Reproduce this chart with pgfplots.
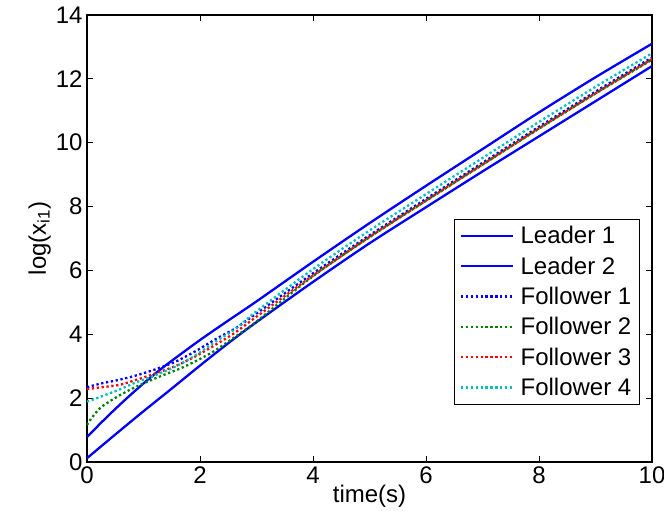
\documentclass[border=0pt]{standalone}
\usepackage{fontspec}
\setmainfont{Liberation Sans}
\usepackage{pgfplots}
\pgfplotsset{compat=1.18}

\definecolor{mblue}{rgb}{0,0,1}
\definecolor{mgreen}{rgb}{0,0.5,0}
\definecolor{mred}{rgb}{1,0,0}
\definecolor{mcyan}{rgb}{0,0.75,0.75}

\begin{document}
\begin{tikzpicture}
\begin{axis}[
    width=565bp, height=447bp,
    scale only axis,
    xmin=0, xmax=10, ymin=0, ymax=14,
    xtick={0,2,...,10}, ytick={0,2,...,14},
    tick align=inside,
    major tick length=6bp,
    axis line style={black, line width=1.2bp},
    tick style={black, line width=0.8bp},
    font=\fontsize{24bp}{28bp}\selectfont,
    /pgf/number format/assume math mode=true,
    xticklabel style={yshift=-1bp},
    yticklabel style={xshift=-1bp},
    xlabel={time(s)},
    ylabel={log(x\textsubscript{i1})},
    xlabel style={yshift=5bp},
    ylabel style={yshift=-2bp},
    legend cell align=left,
    legend style={
        at={(0.977,0.128)}, anchor=south east,
        draw=black, fill=white,
        font=\fontsize{24bp}{28bp}\selectfont,
        row sep=8.5bp, inner xsep=6bp, inner ysep=6bp,
        nodes={inner sep=1.5bp},
        /tikz/column 1/.style={column sep=5bp}
    },
    legend image code/.code={\draw[#1, line width=2.3bp] (0bp,0bp) -- (52bp,0bp);},
]
% leaders
\addplot[mblue, line width=2.3bp, smooth] coordinates {
(0,0.78) (0.25,1.23) (0.5,1.66) (0.75,2.07) (1,2.46) (1.25,2.83) (1.5,3.17)
(2,3.82) (2.5,4.43) (3,5.03) (4,6.27) (5,7.48) (6,8.65) (7,9.8) (8,10.95)
(9,12.05) (10,13.1)};
\addlegendentry{Leader 1}
\addplot[mblue, line width=2.3bp, smooth] coordinates {
(0,0.12) (0.5,0.86) (1,1.59) (1.5,2.3) (2,3.02) (2.5,3.72) (3,4.38) (4,5.64)
(5,6.85) (6,7.98) (7,9.1) (8,10.2) (9,11.3) (10,12.4)};
\addlegendentry{Leader 2}
% followers
\addplot[mblue, line width=2.3bp, dash pattern=on 2.3bp off 2.6bp, smooth] coordinates {
(0,2.34) (0.25,2.46) (0.56,2.57) (0.85,2.7) (1.14,2.86) (1.35,2.99) (1.6,3.17)
(1.91,3.46) (2.3,3.87) (2.62,4.18) (3,4.65) (4,5.91) (5,7.1) (6,8.24) (7,9.37)
(8,10.5) (9,11.6) (10,12.67)};
\addlegendentry{Follower 1}
\addplot[mgreen, line width=2.3bp, dash pattern=on 2.3bp off 2.6bp, smooth] coordinates {
(0,1.16) (0.1,1.42) (0.26,1.73) (0.56,2.07) (0.85,2.34) (1.14,2.57) (1.45,2.79)
(1.73,2.99) (2.2,3.42) (2.62,3.92) (3,4.4) (4,5.82) (5,7.04) (6,8.18) (7,9.31)
(8,10.44) (9,11.54) (10,12.6)};
\addlegendentry{Follower 2}
\addplot[mred, line width=2.3bp, dash pattern=on 2.3bp off 2.6bp, smooth] coordinates {
(0,2.28) (0.25,2.34) (0.56,2.41) (0.85,2.56) (1.14,2.73) (1.35,2.86) (1.6,3.03)
(1.91,3.3) (2.3,3.7) (2.62,4.05) (3,4.55) (4,5.84) (5,7.05) (6,8.19) (7,9.32)
(8,10.45) (9,11.55) (10,12.62)};
\addlegendentry{Follower 3}
\addplot[mcyan, line width=2.3bp, dash pattern=on 2.3bp off 2.6bp, smooth] coordinates {
(0,1.89) (0.1,1.95) (0.25,2.05) (0.56,2.26) (0.85,2.48) (1.14,2.67) (1.35,2.82)
(1.6,3.02) (1.91,3.33) (2.3,3.8) (2.62,4.16) (3,4.72) (4,6.04) (5,7.25) (6,8.39)
(7,9.52) (8,10.65) (9,11.75) (10,12.8)};
\addlegendentry{Follower 4}
\end{axis}
\pgfresetboundingbox
\useasboundingbox ([xshift=-87bp,yshift=-65bp]current axis.south west)
    rectangle ([xshift=12bp,yshift=15bp]current axis.north east);
\end{tikzpicture}
\end{document}
